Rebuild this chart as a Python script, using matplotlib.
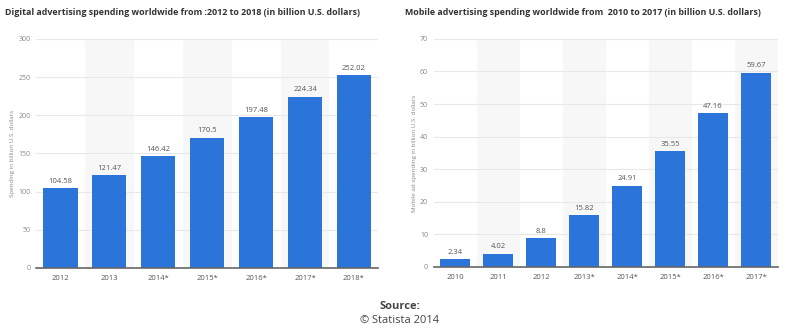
import matplotlib.pyplot as plt
import numpy as np

plt.rcParams['font.family'] = ['Open Sans', 'DejaVu Sans']

# digital ad spending
digital_years = ['2012', '2013', '2014*', '2015*', '2016*', '2017*', '2018*']
digital_values = [104.58, 121.47, 146.42, 170.5, 197.48, 224.34, 252.02]
digital_labels = ['104.58', '121.47', '146.42', '170.5', '197.48', '224.34', '252.02']

# mobile ad spending
mobile_years = ['2010', '2011', '2012', '2013*', '2014*', '2015*', '2016*', '2017*']
mobile_values = [2.34, 4.02, 8.8, 15.82, 24.91, 35.55, 47.16, 59.67]
mobile_labels = ['2.34', '4.02', '8.8', '15.82', '24.91', '35.55', '47.16', '59.67']

bar_color = '#2a74da'
grey = '#888888'


def draw(ax, cats, vals, labels, ymax, ystep, ylabel):
    x = np.arange(len(cats))
    ax.set_xlim(-0.5, len(cats) - 0.5)
    ax.set_ylim(0, ymax)
    # alternating background bands
    for i in x:
        if i % 2 == 1:
            ax.axvspan(i - 0.5, i + 0.5, color='#f7f7f7', zorder=0, lw=0)
    ax.set_yticks(np.arange(0, ymax + 1, ystep))
    ax.yaxis.grid(True, color='#e8e8e8', lw=0.8, zorder=1)
    ax.set_axisbelow(True)
    ax.bar(x, vals, width=0.7, color=bar_color, zorder=2)
    for xi, v, lab in zip(x, vals, labels):
        ax.text(xi, v + ymax * 0.015, lab, ha='center', va='bottom', fontsize=5.5, color='#555555')
    ax.set_xticks(x)
    ax.set_xticklabels(cats, fontsize=5.5, color='#555555')
    ax.tick_params(axis='y', labelsize=5, labelcolor=grey, length=0, pad=4)
    ax.tick_params(axis='x', length=0, pad=5)
    for s in ['top', 'right', 'left']:
        ax.spines[s].set_visible(False)
    ax.spines['bottom'].set_color('#666666')
    ax.spines['bottom'].set_linewidth(1.2)
    ax.set_ylabel(ylabel, fontsize=4.5, color=grey, labelpad=2)


fig = plt.figure(figsize=(8, 3.32), dpi=100)
ax1 = fig.add_axes([0.045, 0.193, 0.428, 0.69])
ax2 = fig.add_axes([0.542, 0.196, 0.430, 0.687])

draw(ax1, digital_years, digital_values, digital_labels, 300, 50, 'Spending in billion U.S. dollars')
draw(ax2, mobile_years, mobile_values, mobile_labels, 70, 10, 'Mobile ad spending in billion U.S. dollars')

fig.text(0.006, 0.962, 'Digital advertising spending worldwide from :2012 to 2018 (in billion U.S. dollars)',
         fontsize=6.4, fontweight='bold', color='#333333', va='center')
fig.text(0.506, 0.962, 'Mobile advertising spending worldwide from  2010 to 2017 (in billion U.S. dollars)',
         fontsize=6.4, fontweight='bold', color='#333333', va='center')

fig.text(0.5, 0.078, 'Source:', ha='center', va='center', fontsize=8, fontweight='bold', color='#444444')
fig.text(0.5, 0.035, '© Statista 2014', ha='center', va='center', fontsize=8, color='#444444')

fig.savefig('out.png', dpi=100, facecolor='white')
